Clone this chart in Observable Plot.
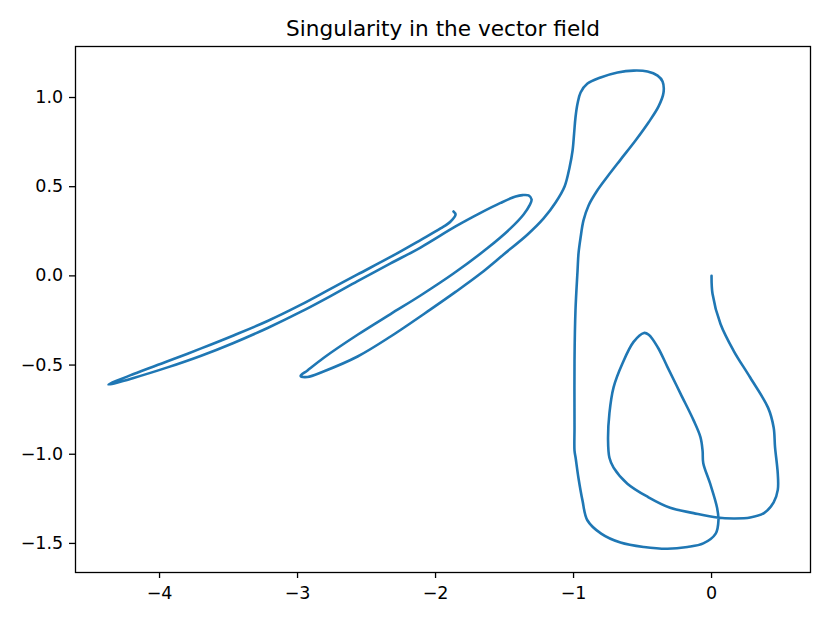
<!DOCTYPE html>
<html>
<head>
<meta charset="utf-8">
<script src="https://cdn.jsdelivr.net/npm/d3@7"></script>
<script src="https://cdn.jsdelivr.net/npm/@observablehq/plot@0.6"></script>
<style>
  html, body { margin: 0; padding: 0; background: white; }
</style>
</head>
<body>
<div id="chart"></div>
<script>
const chartTitle = "Singularity in the vector field";
const xTicks = [-4, -3, -2, -1, 0];
const yTicks = [-1.5, -1.0, -0.5, 0.0, 0.5, 1.0];

// Trajectory, in order, split into segments
const descentRight = [[0,0],[0.007,-0.10],[0.065,-0.27],[0.16,-0.42],[0.28,-0.57],[0.41,-0.74],[0.45,-0.85],[0.46,-0.96],[0.48,-1.11],[0.48,-1.20],[0.45,-1.27],[0.38,-1.33],[0.28,-1.355],[0.16,-1.36],[0.04,-1.355],[-0.13,-1.33],[-0.30,-1.30],[-0.46,-1.24],[-0.61,-1.165]];
const innerLoop = [[-0.71,-1.075],[-0.74,-1.02],[-0.75,-0.92],[-0.74,-0.77],[-0.71,-0.625],[-0.645,-0.49],[-0.565,-0.37],[-0.49,-0.32],[-0.455,-0.33],[-0.39,-0.40],[-0.32,-0.51],[-0.225,-0.66],[-0.13,-0.81],[-0.08,-0.905],[-0.065,-0.98],[-0.06,-1.05],[-0.01,-1.165],[0.04,-1.30]];
const bottomLoop = [[0.05,-1.37],[0.03,-1.445],[-0.06,-1.50],[-0.175,-1.52],[-0.32,-1.53],[-0.49,-1.52],[-0.66,-1.495],[-0.80,-1.445],[-0.90,-1.37],[-0.935,-1.26],[-0.965,-1.13],[-0.985,-1.02],[-0.993,-0.98]];
const riseLeft = [[-0.993,-0.85],[-0.993,-0.474],[-0.986,-0.193],[-0.971,0.030],[-0.964,0.126],[-0.949,0.215],[-0.928,0.311],[-0.891,0.395],[-0.833,0.473],[-0.754,0.557],[-0.659,0.652],[-0.551,0.759],[-0.457,0.860],[-0.384,0.950],[-0.348,1.028]];
const topLoop = [[-0.355,1.090],[-0.391,1.123],[-0.464,1.146],[-0.565,1.151],[-0.681,1.140],[-0.804,1.112],[-0.899,1.078],[-0.949,1.028],[-0.971,0.966],[-0.986,0.888],[-0.996,0.798],[-1.007,0.703],[-1.029,0.608],[-1.065,0.501]];
const narrowLoop = [[-1.130,0.411],[-1.217,0.322],[-1.333,0.232],[-1.507,0.120],[-1.674,0.013],[-1.855,-0.090],[-2.036,-0.188],[-2.326,-0.340],[-2.565,-0.452],[-2.812,-0.536],[-2.928,-0.567],[-2.978,-0.561],[-2.928,-0.530],[-2.812,-0.460],[-2.565,-0.330],[-2.326,-0.214],[-2.109,-0.110],[-1.870,0.013],[-1.623,0.156],[-1.457,0.266],[-1.362,0.344],[-1.319,0.395]];
const longLoop = [[-1.304,0.428],[-1.326,0.451],[-1.370,0.453],[-1.420,0.445],[-1.529,0.409],[-1.674,0.353],[-1.855,0.277],[-2.109,0.159],[-2.326,0.070],[-2.565,-0.029],[-2.761,-0.113],[-2.978,-0.202],[-3.217,-0.292],[-3.464,-0.376],[-3.703,-0.449],[-3.942,-0.513],[-4.188,-0.572],[-4.370,-0.609],[-4.188,-0.550],[-3.942,-0.479],[-3.703,-0.408],[-3.464,-0.334],[-3.217,-0.253],[-2.978,-0.163],[-2.761,-0.073],[-2.565,0.008],[-2.326,0.106],[-2.109,0.201],[-1.964,0.266],[-1.891,0.305],[-1.855,0.344],[-1.870,0.361]];

const path = [...descentRight, ...innerLoop, ...bottomLoop, ...riseLeft, ...topLoop, ...narrowLoop, ...longLoop];

const chart = Plot.plot({
  width: 830,
  height: 623,
  marginLeft: 75,
  marginRight: 20,
  marginTop: 46,
  marginBottom: 51,
  style: { fontFamily: "DejaVu Sans", fontSize: "17.5px", color: "black", background: "white" },
  x: { domain: [-4.609, 0.717] },
  y: { domain: [-1.663, 1.286] },
  marks: [
    Plot.axisX({ ticks: xTicks, tickFormat: d3.format("d"), tickSize: 6, tickPadding: 8.5, label: null, fontSize: 17.5, strokeWidth: 1.3 }),
    Plot.axisY({ ticks: yTicks, tickFormat: d3.format(".1f"), tickSize: 6, tickPadding: 6.3, label: null, fontSize: 17.5, strokeWidth: 1.3 }),
    Plot.line(path, { stroke: "#1f77b4", strokeWidth: 2.6, curve: "catmull-rom" }),
    Plot.frame({ stroke: "black", strokeWidth: 1.3 }),
    Plot.text([chartTitle], { frameAnchor: "top", lineAnchor: "bottom", dy: -11, fontSize: 21.6, fill: "black" })
  ]
});
document.getElementById("chart").appendChild(chart);
</script>
</body>
</html>
